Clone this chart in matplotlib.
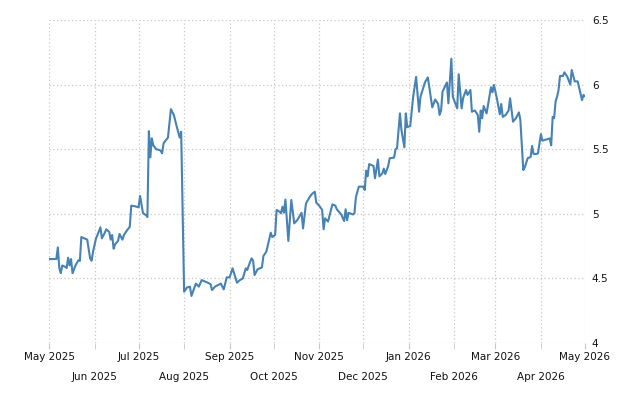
import numpy as np
import matplotlib
matplotlib.use("Agg")
import matplotlib.pyplot as plt
import matplotlib.dates as mdates

# Days since 2025-05-01 and values
days = [0, 5, 6, 7, 8, 9, 11, 12, 13, 14, 15, 16, 18, 20, 21, 22, 24, 26, 28, 29,
        30, 32, 33, 35, 36, 38, 39, 41, 42, 43, 44, 45, 47, 48, 50, 51, 53, 55, 56, 58,
        61, 62, 64, 66, 67, 68, 69, 70, 71, 73, 76, 77, 78, 81, 83, 85, 87, 89, 90, 92,
        94, 96, 97, 100, 102, 104, 108, 110, 111, 113, 117, 119, 121, 123, 125, 128, 130, 132, 134, 135,
        137, 138, 139, 140, 142, 145, 146, 148, 151, 152, 154, 155, 157, 158, 159, 160, 161, 163, 165, 167,
        169, 172, 173, 175, 177, 179, 181, 182, 184, 186, 187, 188, 190, 193, 195, 196, 199, 201, 202, 203,
        204, 207, 208, 209, 211, 214, 215, 216, 217, 218, 221, 222, 224, 225, 227, 228, 229, 231, 232, 235,
        236, 237, 239, 240, 242, 243, 244, 246, 248, 250, 252, 253, 256, 258, 261, 263, 265, 266, 267, 268,
        271, 272, 274, 275, 278, 279, 281, 282, 284, 285, 287, 288, 290, 292, 293, 294, 295, 296, 298, 301,
        302, 303, 305, 307, 308, 309, 311, 313, 314, 316, 318, 320, 321, 323, 324, 326, 328, 329, 330, 332,
        333, 335, 336, 339, 341, 342, 343, 344, 345, 346, 347, 348, 350, 351, 353, 355, 356, 358, 360, 363,
        364, 365]
values = [4.65, 4.65, 4.74, 4.58, 4.54, 4.60, 4.59, 4.58, 4.66, 4.60, 4.65, 4.54, 4.60, 4.64, 4.635, 4.82, 4.81, 4.80, 4.655, 4.637,
          4.707, 4.81, 4.836, 4.895, 4.81, 4.854, 4.88, 4.86, 4.80, 4.836, 4.73, 4.764, 4.79, 4.844, 4.80, 4.836, 4.87, 4.90, 5.063, 5.06,
          5.05, 5.138, 5.005, 4.99, 4.975, 5.64, 5.437, 5.584, 5.53, 5.50, 5.49, 5.468, 5.546, 5.59, 5.81, 5.765, 5.674, 5.59, 5.635, 4.397,
          4.43, 4.436, 4.364, 4.46, 4.436, 4.487, 4.467, 4.456, 4.41, 4.436, 4.46, 4.415, 4.508, 4.508, 4.578, 4.467, 4.487, 4.50, 4.578, 4.565,
          4.63, 4.655, 4.637, 4.526, 4.57, 4.585, 4.673, 4.707, 4.854, 4.82, 4.836, 5.03, 5.016, 5.004, 5.055, 5.008, 5.11, 4.79, 5.107, 4.926,
          4.95, 5.008, 4.887, 5.08, 5.12, 5.153, 5.171, 5.086, 5.063, 5.03, 4.88, 4.965, 4.94, 5.073, 5.063, 5.035, 4.995, 4.944, 5.035, 4.95,
          5.008, 4.995, 5.004, 5.13, 5.21, 5.21, 5.184, 5.334, 5.29, 5.385, 5.37, 5.275, 5.42, 5.29, 5.313, 5.35, 5.308, 5.37, 5.43, 5.435,
          5.50, 5.506, 5.777, 5.65, 5.514, 5.777, 5.67, 5.68, 5.906, 6.06, 5.79, 5.906, 6.017, 6.056, 5.824, 5.885, 5.85, 5.765, 5.80, 5.945,
          6.017, 5.855, 6.20, 5.906, 5.816, 6.08, 5.816, 5.895, 5.958, 5.92, 5.958, 5.79, 5.80, 5.765, 5.635, 5.80, 5.74, 5.834, 5.777, 5.98,
          5.94, 5.997, 5.894, 5.77, 5.85, 5.75, 5.765, 5.80, 5.894, 5.713, 5.74, 5.785, 5.726, 5.339, 5.36, 5.43, 5.44, 5.525, 5.463, 5.463,
          5.468, 5.617, 5.566, 5.576, 5.584, 5.53, 5.75, 5.74, 5.87, 5.906, 5.958, 6.067, 6.067, 6.095, 6.06, 6.0, 6.113, 6.025, 6.025, 5.88,
          5.92, 5.91]

start = np.datetime64("2025-05-01")
dates = start + np.array(days).astype("timedelta64[D]")

y_ticks = [4, 4.5, 5, 5.5, 6, 6.5]
y_labels = ["4", "4.5", "5", "5.5", "6", "6.5"]

fig = plt.figure(figsize=(6.4, 4.0), dpi=100)
ax = fig.add_axes([0.0766, 0.1425, 0.914 - 0.0766, 0.95 - 0.1425])

ax.plot(dates, values, color="#4682b4", lw=1.5, solid_joinstyle="round")

ax.set_xlim(np.datetime64("2025-05-01"), np.datetime64("2026-05-01"))
ax.set_ylim(4, 6.5)

ax.xaxis.set_major_locator(mdates.MonthLocator(bymonth=[1, 3, 5, 7, 9, 11]))
ax.xaxis.set_minor_locator(mdates.MonthLocator(bymonth=[2, 4, 6, 8, 10, 12]))
ax.xaxis.set_major_formatter(mdates.DateFormatter("%b %Y"))
ax.xaxis.set_minor_formatter(mdates.DateFormatter("%b %Y"))

ax.yaxis.tick_right()
ax.set_yticks(y_ticks)
ax.set_yticklabels(y_labels)

for s in ax.spines.values():
    s.set_visible(False)

ax.grid(which="both", axis="x", color="#c8c8c8", linestyle=(0, (1, 2)), lw=0.9)
ax.grid(which="major", axis="y", color="#c8c8c8", linestyle=(0, (1, 2)), lw=0.9)

ax.tick_params(axis="x", which="major", length=4, color="#c8c8c8", pad=2.5,
               labelsize=7.5, labelcolor="#111111")
ax.tick_params(axis="x", which="minor", length=4, color="#c8c8c8", pad=17,
               labelsize=7.5, labelcolor="#111111")
ax.tick_params(axis="y", which="both", length=0, pad=5, labelsize=7.5,
               labelcolor="#111111", right=True, left=False)

fig.savefig("out.png", dpi=100)
